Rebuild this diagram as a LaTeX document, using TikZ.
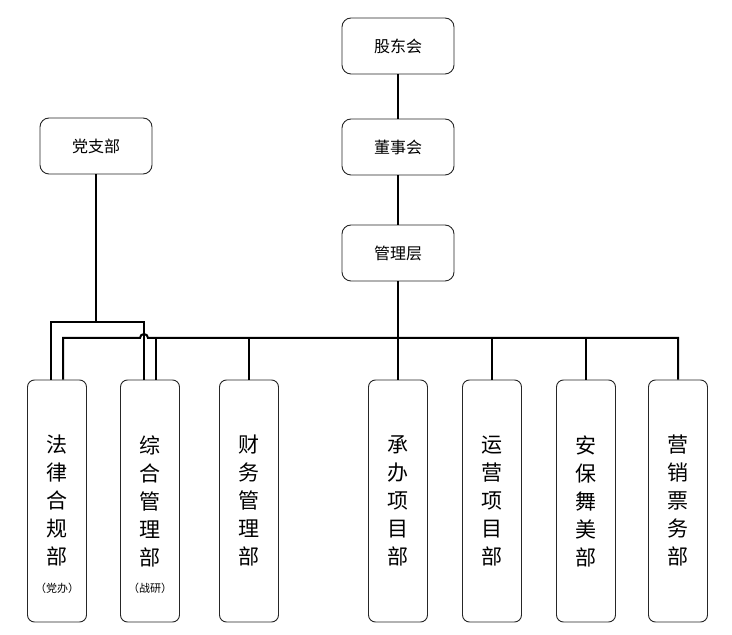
\documentclass[tikz,border=0pt]{standalone}
\usepackage{fontspec}
\setmainfont{Noto Sans CJK SC}
\usepackage{tikz}
\usetikzlibrary{positioning}
\tikzstyle{head} = [rectangle, rounded corners=9pt,
minimum width=112pt,
minimum height=56pt,
inner sep=0pt,
text centered,
font=\fontsize{16}{18}\selectfont,
draw=black!85, line width=0.9pt, fill=white]
\tikzstyle{dept} = [rectangle, rounded corners=7pt,
minimum width=59pt,
minimum height=242pt,
inner sep=0pt,
align=center,
font=\fontsize{21}{28}\selectfont,
draw=black!85, line width=0.9pt, fill=white]
\tikzstyle{note} = [inner sep=0pt, font=\fontsize{11}{12}\selectfont]
\tikzstyle{conn} = [line width=2pt, black]

\begin{document}
\begin{tikzpicture}[x=1pt, y=1pt]
    \useasboundingbox (0,0) rectangle (732,635);
    \node (holders) [head] at (398,589) {股东会};
    \node (board) [head] at (398,488) {董事会};
    \node (mgmt) [head] at (398,382) {管理层};
    \node (party) [head] at (96,489) {党支部};

    \node (legal) [dept] at (57,134) {法\\律\\合\\规\\部};
    \node (admin) [dept] at (150,134) {综\\合\\管\\理\\部};
    \node (finance) [dept] at (249,134) {财\\务\\管\\理\\部};
    \node (project) [dept] at (398,134) {承\\办\\项\\目\\部};
    \node (ops) [dept] at (492,134) {运\\营\\项\\目\\部};
    \node (security) [dept] at (586,134) {安\\保\\舞\\美\\部};
    \node (tickets) [dept] at (678,134) {营\\销\\票\\务\\部};
    \node (legalnote) [note] at ([yshift=-87pt]legal.center) {（党办）};
    \node (adminnote) [note] at ([yshift=-87pt]admin.center) {（战研）};

    \coordinate (bus) at (398,297);
    \coordinate (partybus) at (97,313);

    \draw [conn] (holders) -- (board);
    \draw [conn] (board) -- (mgmt);
    \draw [conn] (mgmt) -- (project);
    % bus hops over the party line
    \draw [conn] ([xshift=6pt]legal.north) |- ([xshift=-10pt]admin.north |- bus)
      arc (180:0:4pt) -| (tickets.north);
    \draw [conn] ([xshift=6pt]admin.north) -- ([xshift=6pt]admin.north |- bus);
    \foreach \n in {finance, ops, security}
      \draw [conn] (\n.north) -- (\n.north |- bus);
    \draw [conn] (party.south) -- (party.south |- partybus);
    \draw [conn] ([xshift=-6pt]legal.north) |- (partybus) -| ([xshift=-6pt]admin.north);
\end{tikzpicture}
\end{document}
